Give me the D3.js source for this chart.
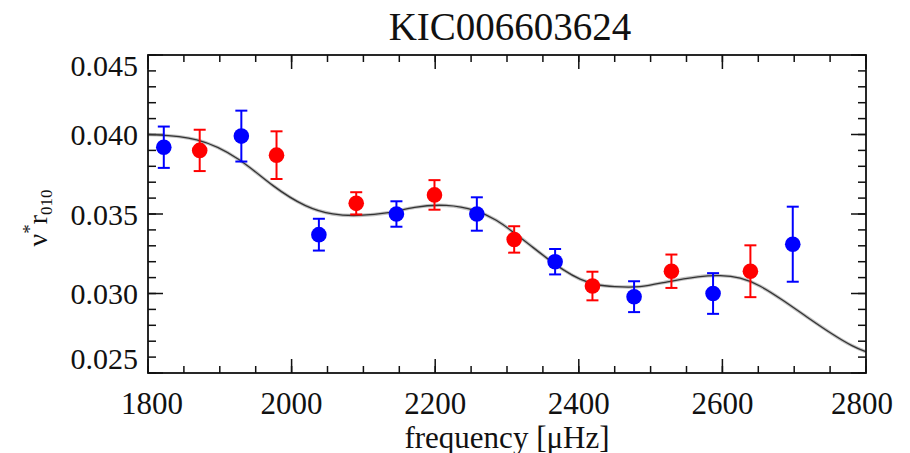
<!DOCTYPE html>
<html>
<head>
<meta charset="utf-8">
<script src="https://cdn.jsdelivr.net/npm/d3@7/dist/d3.min.js"></script>
<style>
  html, body { margin: 0; padding: 0; background: #fff; }
  svg { display: block; }
  text { font-family: "Liberation Serif", "DejaVu Serif", serif; fill: #111; }
</style>
</head>
<body>
<svg id="chart" width="910" height="453"></svg>
<script>
// Ratio r010 measurements (alternating l=0 / l=1 based points) with errors
const freqBlue = [1822, 1930, 2038, 2146, 2258, 2367, 2477, 2587, 2698];
const r010Blue = [0.0392, 0.0399, 0.0337, 0.0350, 0.0350, 0.0320, 0.0298, 0.0300, 0.0331];
const errBlue  = [0.0013, 0.0016, 0.0010, 0.0008, 0.00105, 0.0008, 0.00097, 0.00128, 0.00236];

const freqRed = [1872, 1979, 2090, 2199, 2310, 2419, 2529, 2639];
const r010Red = [0.0390, 0.0387, 0.03567, 0.0362, 0.0334, 0.03047, 0.0314, 0.0314];
const errRed  = [0.0013, 0.0015, 0.0007, 0.00093, 0.00083, 0.0009, 0.00105, 0.00163];

// Smooth fitted model, sampled along frequency
const fitFreq = [1800, 1870, 1928, 1974, 2021, 2058, 2091, 2137, 2169, 2216, 2258, 2286, 2308, 2332, 2355, 2378, 2402, 2425, 2448, 2485, 2522, 2569, 2597, 2625, 2652, 2684, 2717, 2754, 2782, 2800];
const fitR010 = [0.0400, 0.03986, 0.03852, 0.03670, 0.03538, 0.03494, 0.03487, 0.03504, 0.03546, 0.03563, 0.03525, 0.03462, 0.03389, 0.03305, 0.03223, 0.03148, 0.03085, 0.03053, 0.03043, 0.03036, 0.03074, 0.03110, 0.03116, 0.03102, 0.03053, 0.02959, 0.02854, 0.02740, 0.02665, 0.02634];

const title = "KIC006603624";
const xTicks = [1800, 2000, 2200, 2400, 2600, 2800];
const yTicks = [0.025, 0.030, 0.035, 0.040, 0.045];

(function draw() {
  const svg = d3.select("#chart");
  const L = 148, T = 55, R = 866, B = 373;

  const x = d3.scaleLinear().domain([1800, 2800]).range([L, R]);
  const y = d3.scaleLinear().domain([0.025, 0.045]).range([B, T]);

  // minor ticks
  const xMinor = d3.range(1800, 2800.1, 50);
  const yMinor = d3.range(0.025, 0.04501, 0.001);

  const g = svg.append("g");
  const tickColor = "#111";

  function ticks(vals, len, isX) {
    vals.forEach(v => {
      if (isX) {
        const px = x(v);
        g.append("line").attr("x1", px).attr("x2", px).attr("y1", B).attr("y2", B - len)
          .attr("stroke", tickColor).attr("stroke-width", 1.5);
        g.append("line").attr("x1", px).attr("x2", px).attr("y1", T).attr("y2", T + len)
          .attr("stroke", tickColor).attr("stroke-width", 1.5);
      } else {
        const py = y(v);
        g.append("line").attr("x1", L).attr("x2", L + len).attr("y1", py).attr("y2", py)
          .attr("stroke", tickColor).attr("stroke-width", 1.5);
        g.append("line").attr("x1", R).attr("x2", R - len).attr("y1", py).attr("y2", py)
          .attr("stroke", tickColor).attr("stroke-width", 1.5);
      }
    });
  }
  ticks(xMinor, 7, true);
  ticks(xTicks, 14, true);
  ticks(yMinor, 8, false);
  ticks(yTicks, 15, false);

  // fitted curve
  const line = d3.line().x((d, i) => x(fitFreq[i])).y(d => y(d)).curve(d3.curveBasis);
  svg.append("path").datum(fitR010).attr("d", line)
    .attr("fill", "none").attr("stroke", "#999").attr("stroke-width", 3.4).attr("opacity", 0.6);
  svg.append("path").datum(fitR010).attr("d", line)
    .attr("fill", "none").attr("stroke", "#333").attr("stroke-width", 1.3);

  // error bars + points
  function series(fs, vs, es, color) {
    const s = svg.append("g");
    fs.forEach((f, i) => {
      const px = x(f), y1 = y(vs[i] + es[i]), y0 = y(vs[i] - es[i]);
      s.append("line").attr("x1", px).attr("x2", px).attr("y1", y1).attr("y2", y0)
        .attr("stroke", color).attr("stroke-width", 2);
      [y1, y0].forEach(yy => s.append("line").attr("x1", px - 6).attr("x2", px + 6)
        .attr("y1", yy).attr("y2", yy).attr("stroke", color).attr("stroke-width", 2));
      s.append("circle").attr("cx", px).attr("cy", y(vs[i])).attr("r", 7.8).attr("fill", color);
    });
  }
  series(freqBlue, r010Blue, errBlue, "#0000ff");
  series(freqRed, r010Red, errRed, "#ff0000");

  // frame
  svg.append("rect").attr("x", L).attr("y", T).attr("width", R - L).attr("height", B - T)
    .attr("fill", "none").attr("stroke", "#111").attr("stroke-width", 1.8);

  // tick labels
  const yFmt = d3.format(".3f");
  yTicks.forEach(v => {
    const py = Math.max(T + 10, Math.min(B - 15, y(v)));
    svg.append("text").attr("x", L - 10).attr("y", py).attr("text-anchor", "end")
      .attr("dominant-baseline", "central").attr("font-size", 30).text(yFmt(v));
  });
  xTicks.forEach(v => {
    const px = Math.max(L + 4, Math.min(R - 4, x(v)));
    svg.append("text").attr("x", px).attr("y", 403).attr("text-anchor", "middle")
      .attr("dominant-baseline", "central").attr("font-size", 31).text(v);
  });

  // axis titles
  svg.append("text").attr("x", 507).attr("y", 437).attr("text-anchor", "middle")
    .attr("dominant-baseline", "central").attr("font-size", 31).text("frequency [μHz]");

  const yl = svg.append("text").attr("transform", "translate(47,218) rotate(-90)")
    .attr("text-anchor", "middle").attr("font-size", 28);
  yl.append("tspan").text("ν");
  yl.append("tspan").attr("dy", -11).attr("font-size", 19).text("*");
  yl.append("tspan").attr("dy", 11).text("r");
  yl.append("tspan").attr("dy", 5).attr("font-size", 17).text("010");

  // title
  svg.append("text").attr("x", 510).attr("y", 26).attr("text-anchor", "middle")
    .attr("dominant-baseline", "central").attr("font-size", 39).text(title);
})();
</script>
</body>
</html>
